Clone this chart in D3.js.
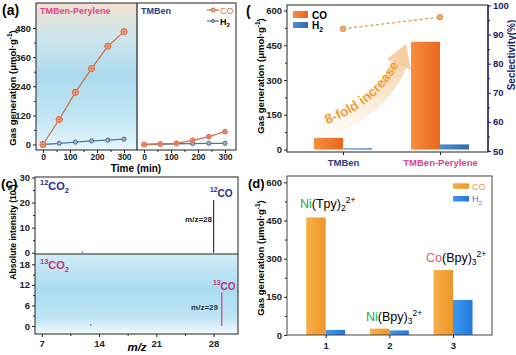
<!DOCTYPE html>
<html><head><meta charset="utf-8">
<script src="https://cdn.jsdelivr.net/npm/d3@7"></script>
<style>body{margin:0;background:#fff}svg{display:block;font-family:"Liberation Sans",Arial,sans-serif}</style>
</head><body><svg id="c" width="516" height="355"></svg>
<script>
// ---------- data ----------
const timeMin = [0, 60, 120, 180, 240, 300];
const peryleneCO = [0, 103, 215, 313, 405, 465];
const peryleneH2 = [0, 5, 10, 15, 18, 22];
const tmbenCO = [0, 2, 5, 17, 32, 53];
const tmbenH2 = [0, 1, 3, 4, 5, 5];
const aYTicks = [0, 120, 240, 360, 480];
const aYMinor = [60, 180, 300, 420];
const aXTicks = [0, 100, 200, 300];
const aXMinor = [50, 150, 250];

const bCats = ["TMBen", "TMBen-Perylene"];
const bCO = [50, 465];
const bH2 = [5, 22];
const bSel = [92, 96];
const bYTicks = [0, 150, 300, 450, 600];
const bYMinor = [75, 225, 375, 525];
const bRTicks = [50, 60, 70, 80, 90, 100];
const bRMinor = [55, 65, 75, 85, 95];

const cMz12 = [12, 28];
const cI12 = [0.4, 21];
const cMz13 = [13, 29];
const cI13 = [0.5, 9.8];
const cXTicks = [7, 14, 21, 28];
const cXMinor = [10.5, 17.5, 24.5];
const cYTicksTop = [0, 10, 20, 30];
const cYMinorTop = [5, 15, 25];
const cYTicksBot = [0, 6, 12, 18];
const cYMinorBot = [3, 9, 15];

const dCats = ["1", "2", "3"];
const dCO = [462, 25, 255];
const dH2 = [20, 18, 138];
const dYTicks = [0, 150, 300, 450, 600];
const dYMinor = [75, 225, 375, 525];

// ---------- helpers ----------
const svg = d3.select("#c");
const defs = svg.append("defs");
function grad(id, stops, horiz) {
  const g = defs.append("linearGradient").attr("id", id).attr("x1", 0).attr("y1", 0).attr("x2", horiz ? 1 : 0).attr("y2", horiz ? 0 : 1);
  stops.forEach(s => g.append("stop").attr("offset", s[0]).attr("stop-color", s[1]).attr("stop-opacity", s[2] == null ? 1 : s[2]));
}
grad("gA", [[0, "#f4e2d0"], [0.22, "#cfe6ec"], [0.5, "#acdaee"], [0.8, "#c4e7f5"], [1, "#e8f6fb"]]);
grad("gC", [[0, "#d2ecf7"], [0.45, "#a9dcf1"], [0.8, "#c0e5f5"], [1, "#f2fafd"]]);
grad("gBco", [[0, "#f88e3e"], [1, "#e9661c"]], true);
grad("gBh2", [[0, "#5290cc"], [1, "#2f6aaa"]], true);
grad("gDco", [[0, "#f8b048"], [1, "#ef9628"]], true);
grad("gDh2", [[0, "#3e9af0"], [1, "#2279d8"]], true);
const arr = defs.append("linearGradient").attr("id", "gArrow").attr("gradientUnits", "userSpaceOnUse")
  .attr("x1", 320).attr("y1", 130).attr("x2", 405).attr("y2", 50);
arr.append("stop").attr("offset", 0).attr("stop-color", "#fdf1e4").attr("stop-opacity", 0.2);
arr.append("stop").attr("offset", 0.6).attr("stop-color", "#fbe3c8").attr("stop-opacity", 0.85);
arr.append("stop").attr("offset", 1).attr("stop-color", "#f7cfa3");

function axisStyle(g, color, fs) {
  g.select(".domain").remove();
  g.selectAll("line").attr("stroke", color).attr("stroke-width", 1);
  g.selectAll("text").attr("font-size", fs || 9.5).attr("font-weight", "bold").attr("fill", color).attr("font-family", '"Liberation Sans",Arial,sans-serif');
}
function rich(x, y, parts, opts) {
  opts = opts || {};
  const t = svg.append("text").attr("x", x).attr("y", y)
    .attr("font-size", opts.size || 12).attr("font-weight", opts.weight || "bold")
    .attr("text-anchor", opts.anchor || "start");
  if (opts.rotate) t.attr("transform", `rotate(${opts.rotate},${x},${y})`);
  let cur = 0;
  parts.forEach(p => {
    const target = p.shift === "sup" ? -(opts.supShift || 5) : p.shift === "sub" ? (opts.subShift || 3) : 0;
    const ts = t.append("tspan").text(p.t).attr("dy", target - cur);
    cur = target;
    if (p.color) ts.attr("fill", p.color);
    if (p.shift) ts.attr("font-size", p.size || (opts.size || 12) * 0.68);
  });
  return t;
}

// ====================== (a) ======================
const yA = d3.scaleLinear().domain([0, 480]).range([144.5, 28]);
const xAL = d3.scaleLinear().domain([0, 300]).range([43, 124]);
const xAR = d3.scaleLinear().domain([0, 300]).range([144, 225]);
svg.append("rect").attr("x", 36).attr("y", 3).attr("width", 101).attr("height", 147).attr("fill", "url(#gA)");

axisStyle(svg.append("g").attr("transform", "translate(36,0)").call(d3.axisLeft(yA).tickValues(aYTicks).tickSize(3).tickPadding(2)), "#222");
axisStyle(svg.append("g").attr("transform", "translate(36,0)").call(d3.axisLeft(yA).tickValues(aYMinor).tickSize(2).tickFormat("")), "#222");
[xAL, xAR].forEach(sc => {
  axisStyle(svg.append("g").attr("transform", "translate(0,150)").call(d3.axisBottom(sc).tickValues(aXTicks).tickSize(3).tickPadding(1)), "#222", 8.5);
  axisStyle(svg.append("g").attr("transform", "translate(0,150)").call(d3.axisBottom(sc).tickValues(aXMinor).tickSize(2).tickFormat("")), "#222");
});

const lineL = d3.line().x((d, i) => xAL(timeMin[i])).y(d => yA(d));
const lineR = d3.line().x((d, i) => xAR(timeMin[i])).y(d => yA(d));
const COline = "#c8744e", COfill = "#f3a58c", COring = "#de6a44";
const H2line = "#4d7898", H2fill = "#9bb4c8", H2ring = "#4f6f8c";
function series(lineGen, xs, vals, lc, fc, rc, r, cross) {
  svg.append("path").attr("d", lineGen(vals)).attr("fill", "none").attr("stroke", lc).attr("stroke-width", 1.3);
  svg.selectAll(null).data(vals).join("circle")
    .attr("cx", (d, i) => xs(timeMin[i])).attr("cy", d => yA(d)).attr("r", r)
    .attr("fill", fc).attr("stroke", rc).attr("stroke-width", 1);
  if (cross) {
    svg.selectAll(null).data(vals).join("path")
      .attr("d", (d, i) => { const x = xs(timeMin[i]), y = yA(d); return `M${x - r},${y}H${x + r}M${x},${y - r}V${y + r}`; })
      .attr("stroke", rc).attr("stroke-width", 0.7);
  }
}
series(lineL, xAL, peryleneH2, H2line, H2fill, H2ring, 2.1);
series(lineL, xAL, peryleneCO, COline, COfill, COring, 3.1, true);
series(lineR, xAR, tmbenH2, H2line, H2fill, H2ring, 2.1);
series(lineR, xAR, tmbenCO, COline, COfill, COring, 2.4, true);

svg.append("rect").attr("x", 36).attr("y", 3).attr("width", 200).attr("height", 147).attr("fill", "none").attr("stroke", "#222").attr("stroke-width", 1);
svg.append("line").attr("x1", 137).attr("x2", 137).attr("y1", 3).attr("y2", 150).attr("stroke", "#222").attr("stroke-width", 1.2);

svg.append("text").attr("x", 40).attr("y", 14).text("TMBen-Perylene").attr("font-size", 9).attr("font-weight", "bold").attr("fill", "#e0448c");
svg.append("text").attr("x", 141).attr("y", 14).text("TMBen").attr("font-size", 9).attr("font-weight", "bold").attr("fill", "#2d3a86");
// legend (a)
svg.append("line").attr("x1", 207).attr("x2", 219).attr("y1", 10).attr("y2", 10).attr("stroke", COline).attr("stroke-width", 1.2);
svg.append("circle").attr("cx", 213).attr("cy", 10).attr("r", 2).attr("fill", COfill).attr("stroke", COring);
svg.append("text").attr("x", 220).attr("y", 13.5).text("CO").attr("font-size", 9).attr("fill", "#e0703c");
svg.append("line").attr("x1", 207).attr("x2", 219).attr("y1", 21).attr("y2", 21).attr("stroke", H2line).attr("stroke-width", 1.2);
svg.append("circle").attr("cx", 213).attr("cy", 21).attr("r", 1.6).attr("fill", H2fill).attr("stroke", H2ring);
rich(220, 24.5, [{t: "H"}, {t: "2", shift: "sub"}], {size: 9, weight: "bold", subShift: 2.5});

svg.append("text").attr("x", 2).attr("y", 15).text("(a)").attr("font-size", 14).attr("font-weight", "bold");
svg.append("text").attr("x", 136).attr("y", 171.5).attr("text-anchor", "middle").text("Time (min)").attr("font-size", 10).attr("font-weight", "bold");
rich(16, 88, [{t: "Gas generation (μmol·g"}, {t: "-1", shift: "sup"}, {t: ")"}], {size: 9.5, weight: "bold", anchor: "middle", rotate: -90, supShift: 4});

// ====================== (b) ======================
const yB = d3.scaleLinear().domain([0, 600]).range([149.5, 10.5]);
const yBR = d3.scaleLinear().domain([50, 100]).range([151, 5.5]);
const xB = d3.scalePoint().domain(bCats).range([343, 440]);
const bw = 29;
svg.selectAll(null).data(bCats).join("rect")
  .attr("x", d => xB(d) - bw).attr("width", bw)
  .attr("y", (d, i) => yB(bCO[i])).attr("height", (d, i) => yB(0) - yB(bCO[i])).attr("fill", "url(#gBco)");
svg.selectAll(null).data(bCats).join("rect")
  .attr("x", d => xB(d)).attr("width", bw)
  .attr("y", (d, i) => yB(bH2[i])).attr("height", (d, i) => yB(0) - yB(bH2[i])).attr("fill", "url(#gBh2)");

// 8-fold arrow
svg.append("path").attr("d", "M318,131 Q381,111 399,64").attr("fill", "none").attr("stroke", "url(#gArrow)").attr("stroke-width", 16);
svg.append("path").attr("d", "M387,59 L411,70 L406,44 Z").attr("fill", "#f7cfa3");
svg.append("path").attr("id", "arrowText").attr("d", "M325,125 Q382,104 404,55").attr("fill", "none");
svg.append("text").attr("font-size", 13.5).attr("font-weight", "bold").attr("fill", "#f0a033")
  .append("textPath").attr("href", "#arrowText").attr("startOffset", "2%").text("8-fold increase");

svg.append("path").attr("d", d3.line().x((d, i) => xB(bCats[i])).y(d => yBR(d))(bSel))
  .attr("fill", "none").attr("stroke", "#e89a4c").attr("stroke-width", 1.3).attr("stroke-dasharray", "3,2.5");
svg.selectAll(null).data(bSel).join("circle")
  .attr("cx", (d, i) => xB(bCats[i])).attr("cy", d => yBR(d)).attr("r", 2.8)
  .attr("fill", "#f0a868").attr("stroke", "#d98840").attr("stroke-width", 0.8);

svg.append("rect").attr("x", 287).attr("y", 5).attr("width", 201).attr("height", 147).attr("fill", "none").attr("stroke", "#222");
svg.append("line").attr("x1", 488).attr("x2", 488).attr("y1", 5).attr("y2", 152).attr("stroke", "#1c1c6c").attr("stroke-width", 1.2);
axisStyle(svg.append("g").attr("transform", "translate(287,0)").call(d3.axisLeft(yB).tickValues(bYTicks).tickSize(3).tickPadding(2)), "#222");
axisStyle(svg.append("g").attr("transform", "translate(287,0)").call(d3.axisLeft(yB).tickValues(bYMinor).tickSize(2).tickFormat("")), "#222");
axisStyle(svg.append("g").attr("transform", "translate(488,0)").call(d3.axisRight(yBR).tickValues(bRTicks).tickSize(3).tickPadding(2)), "#1c1c6c");
axisStyle(svg.append("g").attr("transform", "translate(488,0)").call(d3.axisRight(yBR).tickValues(bRMinor).tickSize(2).tickFormat("")), "#1c1c6c");
const axBx = svg.append("g").attr("transform", "translate(0,152)").call(d3.axisBottom(xB).tickSize(3).tickPadding(4));
axisStyle(axBx, "#222", 9.5);
axBx.selectAll("text").attr("fill", d => d === "TMBen" ? "#2d3a86" : "#e0448c");

// legend (b)
svg.append("rect").attr("x", 293).attr("y", 11).attr("width", 15).attr("height", 7).attr("fill", "url(#gBco)");
svg.append("text").attr("x", 312).attr("y", 18.5).text("CO").attr("font-size", 10).attr("font-weight", "bold");
svg.append("rect").attr("x", 293).attr("y", 22).attr("width", 15).attr("height", 6).attr("fill", "url(#gBh2)");
rich(312, 29, [{t: "H"}, {t: "2", shift: "sub"}], {size: 10, subShift: 2.5});

svg.append("text").attr("x", 246).attr("y", 16).text("(").attr("font-size", 14).attr("font-weight", "bold");
rich(264, 76, [{t: "Gas generation (μmol·g"}, {t: "-1", shift: "sup"}, {t: ")"}], {size: 9.5, anchor: "middle", rotate: -90, supShift: 4});
svg.append("text").attr("x", 515).attr("y", 55).attr("text-anchor", "middle").attr("transform", "rotate(-90,515,55)")
  .text("Seclectivity(%)").attr("font-size", 10).attr("font-weight", "bold").attr("fill", "#1c1c6c");

// ====================== (c) ======================
const xC = d3.scaleLinear().domain([7, 28]).range([41.7, 213.6]);
const yCT = d3.scaleLinear().domain([0, 30]).range([252.7, 177.5]);
const yCB = d3.scaleLinear().domain([0, 18]).range([326, 264.3]);
svg.append("rect").attr("x", 35).attr("y", 254).attr("width", 203).attr("height", 80).attr("fill", "url(#gC)");
svg.selectAll(null).data(cMz12).join("line")
  .attr("x1", d => xC(d)).attr("x2", d => xC(d)).attr("y1", yCT(0)).attr("y2", (d, i) => yCT(cI12[i]))
  .attr("stroke", "#2b2b8e").attr("stroke-width", 1.2);
svg.selectAll(null).data(cMz13).join("line")
  .attr("x1", d => xC(d)).attr("x2", d => xC(d)).attr("y1", yCB(0)).attr("y2", (d, i) => yCB(cI13[i]))
  .attr("stroke", "#d0407e").attr("stroke-width", 1.2);
svg.append("rect").attr("x", 35).attr("y", 177).attr("width", 203).attr("height", 157).attr("fill", "none").attr("stroke", "#222");
svg.append("line").attr("x1", 35).attr("x2", 238).attr("y1", 254).attr("y2", 254).attr("stroke", "#222").attr("stroke-width", 1.2);
axisStyle(svg.append("g").attr("transform", "translate(35,0)").call(d3.axisLeft(yCT).tickValues(cYTicksTop).tickSize(3).tickPadding(2)), "#222");
axisStyle(svg.append("g").attr("transform", "translate(35,0)").call(d3.axisLeft(yCT).tickValues(cYMinorTop).tickSize(2).tickFormat("")), "#222");
axisStyle(svg.append("g").attr("transform", "translate(35,0)").call(d3.axisLeft(yCB).tickValues(cYTicksBot).tickSize(3).tickPadding(2)), "#222");
axisStyle(svg.append("g").attr("transform", "translate(35,0)").call(d3.axisLeft(yCB).tickValues(cYMinorBot).tickSize(2).tickFormat("")), "#222");
axisStyle(svg.append("g").attr("transform", "translate(0,334)").call(d3.axisBottom(xC).tickValues(cXTicks).tickSize(3).tickPadding(3)), "#222");
axisStyle(svg.append("g").attr("transform", "translate(0,334)").call(d3.axisBottom(xC).tickValues(cXMinor).tickSize(2).tickFormat("")), "#222");

rich(40, 190, [{t: "12", shift: "sup"}, {t: "CO"}, {t: "2", shift: "sub"}], {size: 11, supShift: 5, subShift: 3}).attr("fill", "#2b2b8e");
rich(210, 197, [{t: "12", shift: "sup"}, {t: "CO"}], {size: 10, supShift: 5}).attr("fill", "#2b2b8e");
svg.append("text").attr("x", 212).attr("y", 222).attr("text-anchor", "end").text("m/z=28").attr("font-size", 8).attr("font-weight", "bold").attr("fill", "#222");
rich(40, 269, [{t: "13", shift: "sup"}, {t: "CO"}, {t: "2", shift: "sub"}], {size: 11, supShift: 5, subShift: 3}).attr("fill", "#c2317a");
rich(213, 290, [{t: "13", shift: "sup"}, {t: "CO"}], {size: 10, supShift: 5}).attr("fill", "#c2317a");
svg.append("text").attr("x", 218).attr("y", 310).attr("text-anchor", "end").text("m/z=29").attr("font-size", 8).attr("font-weight", "bold").attr("fill", "#1e3550");

svg.append("text").attr("x", 1).attr("y", 188).text("(c)").attr("font-size", 13.5).attr("font-weight", "bold");
rich(16, 232, [{t: "Absolute intensity (10"}, {t: "5", shift: "sup"}, {t: ")"}], {size: 8.6, anchor: "middle", rotate: -90, supShift: 4});
svg.append("text").attr("x", 137).attr("y", 351).attr("text-anchor", "middle").text("m/z").attr("font-size", 11.5).attr("font-weight", "bold").attr("font-style", "italic");

// ====================== (d) ======================
const yD = d3.scaleLinear().domain([0, 600]).range([335, 182.3]);
const xD = d3.scalePoint().domain(dCats).range([325.7, 453]);
const dw = 19.5;
svg.selectAll(null).data(dCats).join("rect")
  .attr("x", d => xD(d) - dw).attr("width", dw)
  .attr("y", (d, i) => yD(dCO[i])).attr("height", (d, i) => yD(0) - yD(dCO[i])).attr("fill", "url(#gDco)");
svg.selectAll(null).data(dCats).join("rect")
  .attr("x", d => xD(d)).attr("width", dw)
  .attr("y", (d, i) => yD(dH2[i])).attr("height", (d, i) => yD(0) - yD(dH2[i])).attr("fill", "url(#gDh2)");
svg.append("rect").attr("x", 287).attr("y", 176).attr("width", 205).attr("height", 159).attr("fill", "none").attr("stroke", "#444");
axisStyle(svg.append("g").attr("transform", "translate(287,0)").call(d3.axisLeft(yD).tickValues(dYTicks).tickSize(3).tickPadding(2)), "#222");
axisStyle(svg.append("g").attr("transform", "translate(287,0)").call(d3.axisLeft(yD).tickValues(dYMinor).tickSize(2).tickFormat("")), "#222");
axisStyle(svg.append("g").attr("transform", "translate(0,335)").call(d3.axisBottom(xD).tickSize(3).tickPadding(4)), "#222");

svg.append("rect").attr("x", 453).attr("y", 183.3).attr("width", 16).attr("height", 5.5).attr("fill", "url(#gDco)");
svg.append("text").attr("x", 472).attr("y", 189.5).text("CO").attr("font-size", 9).attr("fill", "#e39a3a");
svg.append("rect").attr("x", 453).attr("y", 196).attr("width", 16).attr("height", 5.5).attr("fill", "url(#gDh2)");
rich(472, 202, [{t: "H"}, {t: "2", shift: "sub"}], {size: 9, weight: "normal", subShift: 2.5}).attr("fill", "#2f82d8");

rich(300, 208, [{t: "Ni", color: "#25a64a"}, {t: "(Tpy)"}, {t: "2", shift: "sub"}, {t: "2+", shift: "sup"}], {size: 12.5, weight: "normal", supShift: 5, subShift: 3});
rich(366, 321, [{t: "Ni", color: "#25a64a"}, {t: "(Bpy)"}, {t: "3", shift: "sub"}, {t: "2+", shift: "sup"}], {size: 12.5, weight: "normal", supShift: 5, subShift: 3});
rich(426, 262, [{t: "Co", color: "#e0606e"}, {t: "(Bpy)"}, {t: "3", shift: "sub"}, {t: "2+", shift: "sup"}], {size: 12.5, weight: "normal", supShift: 5, subShift: 3});

svg.append("text").attr("x", 248).attr("y", 188).text("(d)").attr("font-size", 13).attr("font-weight", "bold");
rich(264, 258, [{t: "Gas generation (μmol·g"}, {t: "-1", shift: "sup"}, {t: ")"}], {size: 9.5, anchor: "middle", rotate: -90, supShift: 4});
</script></body></html>
